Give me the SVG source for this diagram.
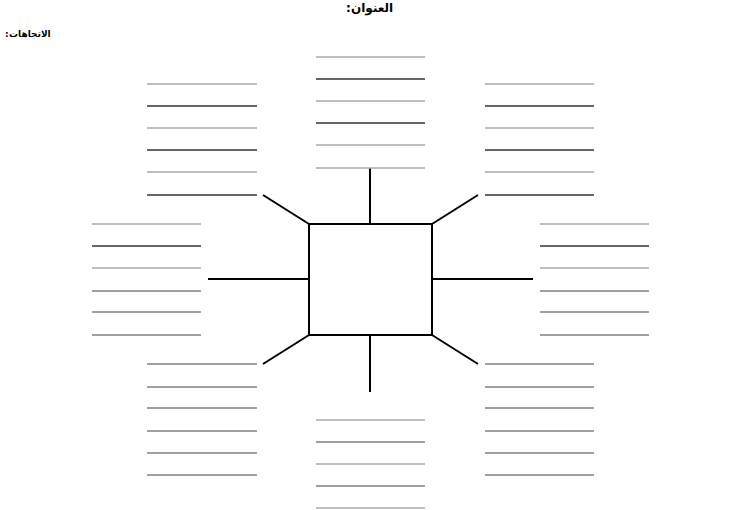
<svg xmlns="http://www.w3.org/2000/svg" width="732" height="510" viewBox="0 0 732 510">
<style>
.l{stroke-width:1.3;fill:none}
.g{stroke:#aaaaaa}
.d{stroke:#333333}
.m{stroke:#808080}
.c{stroke:#000;stroke-width:2;fill:none}
.t{font-family:"DejaVu Sans",sans-serif;font-weight:bold;fill:#000}
</style>
<rect width="732" height="510" fill="#fff"/>
<g id="title">
<text class="t" x="346" y="12" font-size="12">:</text>
<text class="t" x="351" y="12" font-size="12">العنوان</text>
</g>
<g id="directions">
<text class="t" x="5" y="37" font-size="9">:</text>
<text class="t" x="9" y="37" font-size="9">الاتجاهات</text>
</g>
<g id="center"><rect class="c" x="309" y="224" width="123" height="111"/></g>
<g id="connectors">
<line class="c" x1="370" y1="168" x2="370" y2="224"/>
<line class="c" x1="370" y1="335" x2="370" y2="392"/>
<line class="c" x1="208" y1="279" x2="309" y2="279"/>
<line class="c" x1="432" y1="279" x2="533" y2="279"/>
<line class="c" x1="263" y1="195" x2="309" y2="224"/>
<line class="c" x1="478" y1="195" x2="432" y2="224"/>
<line class="c" x1="263" y1="364" x2="309" y2="335"/>
<line class="c" x1="478" y1="364" x2="432" y2="335"/>
</g>
<g id="top">
<line class="l g" x1="316" y1="57" x2="425" y2="57"/>
<line class="l d" x1="316" y1="79" x2="425" y2="79"/>
<line class="l g" x1="316" y1="101" x2="425" y2="101"/>
<line class="l d" x1="316" y1="123" x2="425" y2="123"/>
<line class="l g" x1="316" y1="145" x2="425" y2="145"/>
<line class="l g" x1="316" y1="168" x2="425" y2="168"/>
</g>
<g id="top-left">
<line class="l g" x1="147" y1="84" x2="257" y2="84"/>
<line class="l d" x1="147" y1="106" x2="257" y2="106"/>
<line class="l g" x1="147" y1="128" x2="257" y2="128"/>
<line class="l d" x1="147" y1="150" x2="257" y2="150"/>
<line class="l g" x1="147" y1="172" x2="257" y2="172"/>
<line class="l d" x1="147" y1="195" x2="257" y2="195"/>
</g>
<g id="top-right">
<line class="l g" x1="485" y1="84" x2="594" y2="84"/>
<line class="l d" x1="485" y1="106" x2="594" y2="106"/>
<line class="l g" x1="485" y1="128" x2="594" y2="128"/>
<line class="l d" x1="485" y1="150" x2="594" y2="150"/>
<line class="l g" x1="485" y1="172" x2="594" y2="172"/>
<line class="l d" x1="485" y1="195" x2="594" y2="195"/>
</g>
<g id="left">
<line class="l g" x1="92" y1="224" x2="201" y2="224"/>
<line class="l d" x1="92" y1="246" x2="201" y2="246"/>
<line class="l g" x1="92" y1="268" x2="201" y2="268"/>
<line class="l m" x1="92" y1="291" x2="201" y2="291"/>
<line class="l m" x1="92" y1="312" x2="201" y2="312"/>
<line class="l m" x1="92" y1="335" x2="201" y2="335"/>
</g>
<g id="right">
<line class="l g" x1="540" y1="224" x2="649" y2="224"/>
<line class="l d" x1="540" y1="246" x2="649" y2="246"/>
<line class="l g" x1="540" y1="268" x2="649" y2="268"/>
<line class="l m" x1="540" y1="291" x2="649" y2="291"/>
<line class="l m" x1="540" y1="312" x2="649" y2="312"/>
<line class="l m" x1="540" y1="335" x2="649" y2="335"/>
</g>
<g id="bottom-left">
<line class="l m" x1="147" y1="364" x2="257" y2="364"/>
<line class="l m" x1="147" y1="387" x2="257" y2="387"/>
<line class="l m" x1="147" y1="408" x2="257" y2="408"/>
<line class="l m" x1="147" y1="431" x2="257" y2="431"/>
<line class="l m" x1="147" y1="453" x2="257" y2="453"/>
<line class="l m" x1="147" y1="475" x2="257" y2="475"/>
</g>
<g id="bottom-right">
<line class="l m" x1="485" y1="364" x2="594" y2="364"/>
<line class="l m" x1="485" y1="387" x2="594" y2="387"/>
<line class="l m" x1="485" y1="408" x2="594" y2="408"/>
<line class="l m" x1="485" y1="431" x2="594" y2="431"/>
<line class="l m" x1="485" y1="453" x2="594" y2="453"/>
<line class="l m" x1="485" y1="475" x2="594" y2="475"/>
</g>
<g id="bottom">
<line class="l g" x1="316" y1="420" x2="425" y2="420"/>
<line class="l m" x1="316" y1="442" x2="425" y2="442"/>
<line class="l g" x1="316" y1="464" x2="425" y2="464"/>
<line class="l m" x1="316" y1="486" x2="425" y2="486"/>
<line class="l g" x1="316" y1="508" x2="425" y2="508"/>
</g>
</svg>
